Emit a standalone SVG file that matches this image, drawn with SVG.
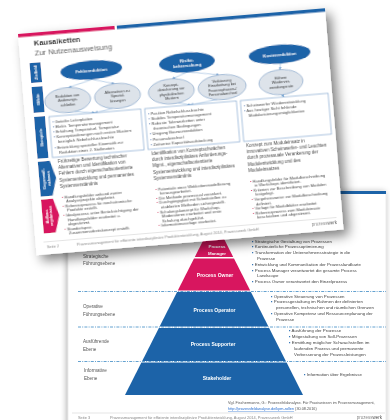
<svg xmlns="http://www.w3.org/2000/svg" width="390" height="420" viewBox="0 0 390 420">
<defs>
<filter id="shadowTop" x="-20%" y="-20%" width="145%" height="150%">
<feGaussianBlur in="SourceAlpha" stdDeviation="6"/>
<feOffset dx="5" dy="6" result="b"/>
<feComponentTransfer><feFuncA type="linear" slope="0.5"/></feComponentTransfer>
<feMerge><feMergeNode/><feMergeNode in="SourceGraphic"/></feMerge>
</filter>
<filter id="shadowBot" x="-10%" y="-10%" width="120%" height="120%">
<feGaussianBlur in="SourceAlpha" stdDeviation="3"/>
<feOffset dx="-1" dy="1"/>
<feComponentTransfer><feFuncA type="linear" slope="0.35"/></feComponentTransfer>
<feMerge><feMergeNode/><feMergeNode in="SourceGraphic"/></feMerge>
</filter>
<marker id="ah" viewBox="0 0 6 6" refX="5.5" refY="3" markerWidth="3" markerHeight="3" markerUnits="userSpaceOnUse" orient="auto">
<path d="M0,0 L6,3 L0,6 z" fill="#6d9fd0"/>
</marker>
<style>
text { font-family: "Liberation Sans", Arial, sans-serif; }
.lab { font-size: 4px; font-weight: bold; fill: #fff; text-anchor: middle; }
.dk { fill: #1a63a8; }
.pk { fill: #d8165f; }
.ell { fill: #1a63a8; }
.ellt { font-size: 4.2px; font-weight: bold; fill: #fff; text-anchor: middle; }
.gell { fill: #dde3ea; stroke: #7197c2; stroke-width: 0.6; }
.gellt { font-size: 3.8px; fill: #333; text-anchor: middle; }
.box { fill: #fff; stroke: #86aad0; stroke-width: 0.7; }
.bt { font-size: 4.1px; fill: #444; }
.pt { font-size: 4.5px; fill: #444; }
.ab { font-size: 4.1px; fill: #444; }
.bb { fill: #2a6fb5; }
.pb { fill: #d8165f; }
.con { stroke: #7aa7d4; stroke-width: 0.5; fill: none; marker-end: url(#ah); }
.ft { font-size: 3.9px; fill: #888; }
.rl { font-size: 4.6px; fill: #555; }
.rt { font-size: 4.4px; fill: #444; }
.pyt { font-size: 5px; font-weight: bold; fill: #fff; text-anchor: middle; }
.dash { stroke: #3d8ac4; stroke-width: 0.8; stroke-dasharray: 3 1.2 1 1.2; fill: none; }
</style>
</defs>
<rect width="390" height="420" fill="#fff"/>

<!-- Bottom page: roles pyramid -->
<g id="page-rollen" filter="url(#shadowBot)">
<rect x="68" y="191" width="318" height="240" fill="#fff" stroke="#d0d0d0" stroke-width="0.4"/>
<rect x="68" y="191" width="318" height="3" fill="#1a63a8"/>
<g id="separators">
<line class="dash" x1="78" y1="291.5" x2="386" y2="291.5"/>
<line class="dash" x1="78" y1="327" x2="386" y2="327"/>
<line class="dash" x1="78" y1="361.5" x2="386" y2="361.5"/>
</g>
<g id="levels">
<text class="rl" x="83" y="258">Strategische</text>
<text class="rl" x="83" y="265">Führungsebene</text>
<text class="rl" x="83" y="308">Operative</text>
<text class="rl" x="83" y="315.5">Führungsebene</text>
<text class="rl" x="83" y="343">Ausführende</text>
<text class="rl" x="83" y="350.5">Ebene</text>
<text class="rl" x="84" y="372">Informative</text>
<text class="rl" x="84" y="379.5">Ebene</text>
</g>
<g id="pyr-manager">
<polygon class="pk" points="214,219 233.2,257 194.8,257"/>
<text class="pyt" x="217" y="248" style="font-size:4.4px">Process</text>
<text class="pyt" x="217" y="254.5" style="font-size:4.4px">Manager</text>
</g>
<g id="pyr-owner">
<polygon class="pk" points="194,258.5 234,258.5 250.2,290.5 177.8,290.5"/>
<text class="pyt" x="215" y="277">Process Owner</text>
</g>
<g id="pyr-operator">
<polygon class="dk" points="177.1,292 250.9,292 268.4,326.5 159.6,326.5"/>
<text class="pyt" x="214.5" y="311.5">Process Operator</text>
</g>
<g id="pyr-supporter">
<polygon class="dk" points="158.9,328 269.1,328 285.8,361 142.2,361"/>
<text class="pyt" x="213" y="345.5">Process Supporter</text>
</g>
<g id="pyr-stakeholder">
<polygon class="dk" points="141.4,362.5 286.6,362.5 303,395 125,395"/>
<text class="pyt" x="217" y="380">Stakeholder</text>
</g>
<g id="tasks">
<text class="rt" x="252" y="242.5"><tspan class="bb">▪</tspan> Strategische Gestaltung von Prozessen</text>
<text class="rt" x="252" y="248"><tspan class="bb">▪</tspan> Kontinuierliche Prozessoptimierung</text>
<text class="rt" x="252" y="254"><tspan class="bb">▪</tspan> Transformation der Unternehmensstrategie in die</text>
<text class="rt" x="257" y="259.5">Prozesse</text>
<text class="rt" x="252" y="265.5"><tspan class="bb">▪</tspan> Entwicklung und Kommunikation der Prozesslandkarte</text>
<text class="rt" x="252" y="271.5"><tspan class="bb">▪</tspan> Process Manager verantwortet die gesamte Process</text>
<text class="rt" x="257" y="277">Landscape</text>
<text class="rt" x="252" y="283"><tspan class="bb">▪</tspan> Process Owner verantwortet den Einzelprozess</text>
<text class="rt" x="271" y="297.5"><tspan class="bb">▪</tspan> Operative Steuerung von Prozessen</text>
<text class="rt" x="271" y="303"><tspan class="bb">▪</tspan> Prozessgestaltung im Rahmen der definierten</text>
<text class="rt" x="276" y="309">personellen, technischen und räumlichen Grenzen</text>
<text class="rt" x="271" y="315"><tspan class="bb">▪</tspan> Operative Kompetenz und Ressourcenplanung der</text>
<text class="rt" x="276" y="320.5">Prozesse</text>
<text class="rt" x="289" y="332"><tspan class="bb">▪</tspan> Ausführung der Prozesse</text>
<text class="rt" x="289" y="338"><tspan class="bb">▪</tspan> Mitgestaltung von Soll-Prozessen</text>
<text class="rt" x="289" y="344"><tspan class="bb">▪</tspan> Ermittlung möglicher Schwachstellen im</text>
<text class="rt" x="294" y="350">laufenden Prozess und permanente</text>
<text class="rt" x="294" y="356">Verbesserung der Prozessleistungen</text>
<text class="rt" x="304" y="376"><tspan class="bb">▪</tspan> Information über Ergebnisse</text>
</g>
<g id="source">
<text class="ft" x="228" y="403.5" style="fill:#555;font-size:3.8px">Vgl. Fischermanns, G.: Prozessfeldanalyse. Für Praxiswissen im Prozessmanagement,</text>
<text class="ft" x="228" y="410" style="font-size:3.8px"><tspan style="fill:#2a6fd0;text-decoration:underline">http://prozessfeldanalyse.de/kpm-rollen</tspan><tspan style="fill:#555"> (30.08.2016)</tspan></text>
</g>
<g id="footer-bottom">
<line x1="72" y1="413" x2="385" y2="413" stroke="#bbb" stroke-width="0.4"/>
<text class="ft" x="78" y="418.5">Seite 3</text>
<text class="ft" x="110" y="418.5">Prozessmanagement für effiziente interdisziplinäre Produktentwicklung, August 2014, Prozesswerk GmbH</text>
<text class="ft" x="382" y="418.5" style="text-anchor:end;font-size:4.5px">prozess<tspan style="fill:#555">werk</tspan></text>
</g>
</g>

<!-- Top page: causal chains -->
<g id="page-kausalketten" transform="translate(18,34) rotate(-4.8)" filter="url(#shadowTop)">
<rect width="308" height="222" fill="#fff"/>
<rect x="0" y="0" width="97" height="3.5" class="pk"/>
<rect x="99" y="0" width="209" height="3.5" class="dk"/>
<text x="15" y="13" style="font-size:7.5px;font-weight:bold;fill:#222">Kausalketten</text>
<text x="15" y="22.5" style="font-size:7.6px;fill:#555">Zur Nutzenausweisung</text>

<g id="label-zielfeld">
<rect x="9" y="30" width="11" height="20" class="dk"/>
<text class="lab" transform="translate(16,40) rotate(-90)">Zielfeld</text>
</g>
<g id="label-effekt">
<rect x="9" y="54" width="11" height="26" class="dk"/>
<text class="lab" transform="translate(16,67) rotate(-90)">Effekt</text>
</g>
<g id="label-beispiele">
<rect x="9" y="84" width="11" height="42" class="dk"/>
<text class="lab" transform="translate(16,105) rotate(-90)">Beispiele</text>
</g>
<g id="label-gegenmassnahmen">
<polygon points="9,129 21,129 26,146.5 21,164 9,164" class="dk"/>
<text class="lab" transform="translate(14.5,146.5) rotate(-90)" style="font-size:3.8px">Gegenmaß-</text>
<text class="lab" transform="translate(19.5,146.5) rotate(-90)" style="font-size:3.8px">nahmen</text>
</g>
<g id="label-aufbauergebnisse">
<polygon points="9,167 21,167 26,184 21,201 9,201" class="pk"/>
<text class="lab" transform="translate(14.5,184) rotate(-90)" style="font-size:3.8px">Aufbau-</text>
<text class="lab" transform="translate(19.5,184) rotate(-90)" style="font-size:3.8px">ergebnisse</text>
</g>

<g id="connectors">
<line class="con" x1="70" y1="51.5" x2="46" y2="57.5"/>
<line class="con" x1="70" y1="51.5" x2="92" y2="57.5"/>
<line class="con" x1="166" y1="52" x2="150" y2="57.5"/>
<line class="con" x1="166" y1="52" x2="197" y2="57.5"/>
<line class="con" x1="259" y1="51.5" x2="258" y2="57.5"/>
<line class="con" x1="50" y1="82" x2="70" y2="85"/>
<line class="con" x1="88" y1="82" x2="70" y2="85"/>
<line class="con" x1="154" y1="82" x2="166" y2="85"/>
<line class="con" x1="193" y1="82" x2="166" y2="85"/>
<line class="con" x1="258" y1="82.5" x2="260" y2="85"/>
</g>

<g id="ziel-fehlerreduktion">
<ellipse class="ell" cx="70" cy="42" rx="31" ry="9.5"/>
<text class="ellt" x="70" y="43.5">Fehlerreduktion</text>
</g>
<g id="ziel-risiko">
<ellipse class="ell" cx="166" cy="42.5" rx="28" ry="10"/>
<text class="ellt" x="166" y="41.5">Risiko-</text>
<text class="ellt" x="166" y="46.5">beherrschung</text>
</g>
<g id="ziel-kosten">
<ellipse class="ell" cx="259" cy="42" rx="31" ry="9.5"/>
<text class="ellt" x="259" y="43.5">Kostenreduktion</text>
</g>

<g id="effekt-aenderung">
<ellipse class="gell" cx="44" cy="70" rx="23" ry="12.5"/>
<text class="gellt" x="44" y="66.5">Reduktion von</text>
<text class="gellt" x="44" y="71">Änderungs-</text>
<text class="gellt" x="44" y="75.5">schleifen</text>
</g>
<g id="effekt-alternativen">
<ellipse class="gell" cx="94" cy="70" rx="23" ry="12.5"/>
<text class="gellt" x="94" y="66.5">Alternativen zu</text>
<text class="gellt" x="94" y="71">Spezial-</text>
<text class="gellt" x="94" y="75.5">lösungen</text>
</g>
<g id="effekt-konzept">
<ellipse class="gell" cx="148" cy="70" rx="23" ry="12.5"/>
<text class="gellt" x="148" y="64.5">Konzept-</text>
<text class="gellt" x="148" y="69">absicherung vor</text>
<text class="gellt" x="148" y="73.5">physikalischen</text>
<text class="gellt" x="148" y="78">Mustern</text>
</g>
<g id="effekt-einarbeitung">
<ellipse class="gell" cx="199" cy="70" rx="24" ry="12.5"/>
<text class="gellt" x="199" y="64.5">Verkürzung</text>
<text class="gellt" x="199" y="69">Einarbeitung bei</text>
<text class="gellt" x="199" y="73.5">Prozessphasen-/</text>
<text class="gellt" x="199" y="78">Personalwechsel</text>
</g>
<g id="effekt-wiederverwendung">
<ellipse class="gell" cx="258" cy="70" rx="22" ry="12.5"/>
<text class="gellt" x="258" y="66.5">Höhere</text>
<text class="gellt" x="258" y="71">Wiederver-</text>
<text class="gellt" x="258" y="75.5">wendungsrate</text>
</g>

<g id="beispiele-1">
<rect class="box" x="24" y="85" width="92" height="41"/>
<text class="bt" x="27" y="91.5"><tspan class="bb">▪</tspan> Geteilte Leiterplatten</text>
<text class="bt" x="27" y="96.7"><tspan class="bb">▪</tspan> Elektr. Temperaturmanagement</text>
<text class="bt" x="27" y="101.9"><tspan class="bb">▪</tspan> Erhöhung Temperaturl. Temperatur</text>
<text class="bt" x="27" y="107.1"><tspan class="bb">▪</tspan> Konzeptänderungen nach ersten Mustern</text>
<text class="bt" x="31" y="112.3">bezüglich Nebelschlussleuchte</text>
<text class="bt" x="27" y="117.5"><tspan class="bb">▪</tspan> Entwicklung spezieller Kinematik zur</text>
<text class="bt" x="31" y="122.7">Reduktion eines 2. Stellmotors</text>
</g>
<g id="beispiele-2">
<rect class="box" x="120" y="85" width="92" height="41"/>
<text class="bt" x="123" y="91.5"><tspan class="bb">▪</tspan> Position Nebelschlussleuchte</text>
<text class="bt" x="123" y="96.7"><tspan class="bb">▪</tspan> Stabiles Temperaturmanagement</text>
<text class="bt" x="123" y="101.9"><tspan class="bb">▪</tspan> Robuste Toleranzketten unter</text>
<text class="bt" x="127" y="107.1">thermischen Bedingungen</text>
<text class="bt" x="123" y="112.3"><tspan class="bb">▪</tspan> Umgang Bauraumreduktion</text>
<text class="bt" x="123" y="117.5"><tspan class="bb">▪</tspan> Personalwechsel</text>
<text class="bt" x="123" y="122.7"><tspan class="bb">▪</tspan> Zeitweise Kapazitätsaufstockung</text>
</g>
<g id="beispiele-3">
<rect class="box" x="216" y="85" width="88" height="41"/>
<text class="bt" x="219" y="91.5"><tspan class="bb">▪</tspan> Scheinwerfer Wiederentwicklung</text>
<text class="bt" x="219" y="96.7"><tspan class="bb">▪</tspan> Aus heutiger Sicht fehlende</text>
<text class="bt" x="223" y="101.9">Modularisierungsmöglichkeiten</text>
</g>

<g id="massnahmen">
<text class="pt" x="29" y="132">Frühzeitige Bewertung technischer</text>
<text class="pt" x="29" y="138.2">Alternativen und Identifikation von</text>
<text class="pt" x="29" y="144.4">Fehlern durch eigenschaftsorientierte</text>
<text class="pt" x="29" y="150.6">Systementwicklung und permanentes</text>
<text class="pt" x="29" y="156.8">Systemverständnis</text>
<text class="pt" x="123" y="132">Identifikation von Konzeptschwächen</text>
<text class="pt" x="123" y="138.2">durch interdisziplinäres Anforderungs-</text>
<text class="pt" x="123" y="144.4">Mgmt., eigenschaftsorientierte</text>
<text class="pt" x="123" y="150.6">Systementwicklung und interdisziplinäres</text>
<text class="pt" x="123" y="156.8">Systemverständnis</text>
<text class="pt" x="218" y="132">Konzept zum Moduleinsatz in</text>
<text class="pt" x="218" y="138.2">innovativen Scheinwerfer- und Leuchten</text>
<text class="pt" x="218" y="144.4">durch prozessuale Verankerung der</text>
<text class="pt" x="218" y="150.6">Modulentwicklung und des</text>
<text class="pt" x="218" y="156.8">Moduleinsatzes</text>
</g>

<g id="ergebnisse">
<text class="ab" x="30" y="167.5"><tspan class="pb">▪</tspan> Handlungsfelder anhand zweier</text>
<text class="ab" x="34" y="172.1">Analyseprojekte abgeleitet.</text>
<text class="ab" x="30" y="176.7"><tspan class="pb">▪</tspan> Referenzprozess für mechatronische</text>
<text class="ab" x="34" y="181.3">Produkte erstellt.</text>
<text class="ab" x="30" y="185.9"><tspan class="pb">▪</tspan> Idealprozess unter Berücksichtigung der</text>
<text class="ab" x="34" y="190.5">Handlungsfelder erarbeitet u.</text>
<text class="ab" x="34" y="195.1">abgestimmt.</text>
<text class="ab" x="30" y="199.7"><tspan class="pb">▪</tspan> Standortspez.</text>
<text class="ab" x="34" y="204.3">Zusammenarbeitskonzept erstellt.</text>

<text class="ab" x="124" y="167.5"><tspan class="pb">▪</tspan> Potentiale einer Wirkkettenmodellierung</text>
<text class="ab" x="128" y="172.1">herausgearbeitet.</text>
<text class="ab" x="124" y="176.7"><tspan class="pb">▪</tspan> Die Methode prozessual verankert.</text>
<text class="ab" x="124" y="181.3"><tspan class="pb">▪</tspan> Durchgängigkeit mit Schnittstellen zu</text>
<text class="ab" x="128" y="185.9">etablierten Methoden sichergestellt.</text>
<text class="ab" x="124" y="190.5"><tspan class="pb">▪</tspan> Schulungskonzept für Workshop-</text>
<text class="ab" x="128" y="195.1">Moderatoren erarbeitet und erste</text>
<text class="ab" x="128" y="199.7">Schulung durchgeführt.</text>
<text class="ab" x="124" y="204.3"><tspan class="pb">▪</tspan> Informationsvorlage erarbeitet.</text>

<text class="ab" x="219" y="167.5"><tspan class="pb">▪</tspan> Handlungsfelder für Modulbeschreibung</text>
<text class="ab" x="223" y="172.1">in Workshops identifiziert.</text>
<text class="ab" x="219" y="176.7"><tspan class="pb">▪</tspan> Kriterien zur Beschreibung von Modulen</text>
<text class="ab" x="223" y="181.3">festgelegt.</text>
<text class="ab" x="219" y="185.9"><tspan class="pb">▪</tspan> Vorgehensweise zur Modulbeschreibung</text>
<text class="ab" x="223" y="190.5">definiert.</text>
<text class="ab" x="219" y="195.1"><tspan class="pb">▪</tspan> Vorlage für Modulblätter erarbeitet</text>
<text class="ab" x="219" y="199.7"><tspan class="pb">▪</tspan> Referenzprozess zum Moduleinsatz</text>
<text class="ab" x="223" y="204.3">beschrieben und abgestimmt.</text>
</g>

<g id="footer-top">
<line x1="8" y1="209.5" x2="302" y2="209.5" stroke="#bbb" stroke-width="0.4"/>
<text class="ft" x="11" y="216">Seite 2</text>
<text class="ft" x="41" y="216">Prozessmanagement für effiziente interdisziplinäre Produktentwicklung, August 2014, Prozesswerk GmbH</text>
<text class="ft" x="302" y="216" style="text-anchor:end;font-size:4.5px">prozess<tspan style="fill:#555">werk</tspan></text>
</g>
</g>
</svg>
